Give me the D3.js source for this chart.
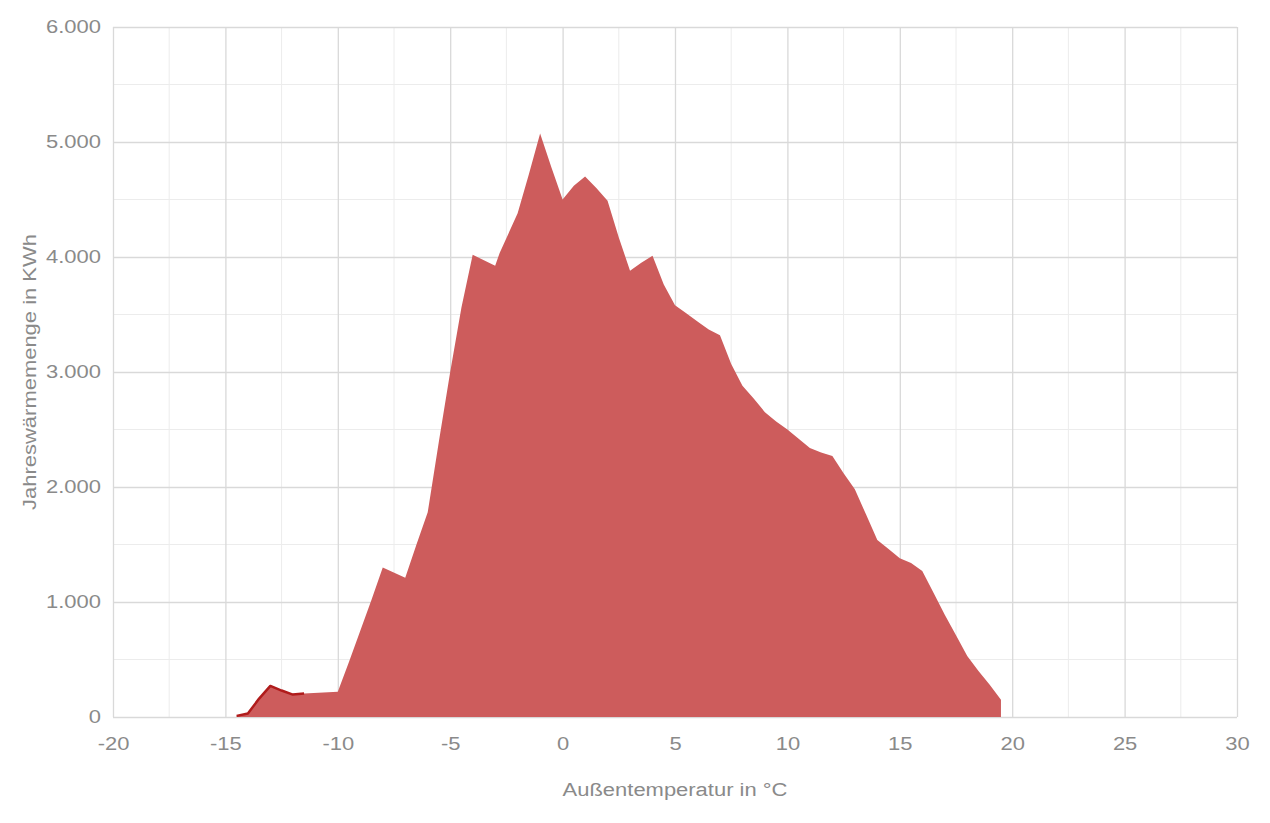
<!DOCTYPE html>
<html><head><meta charset="utf-8">
<script src="https://cdn.jsdelivr.net/npm/d3@7"></script>
<style>body{margin:0;background:#fff;} svg{display:block;font-family:"Liberation Sans",Arial,sans-serif;}</style>
</head><body>
<svg id="c" width="1270" height="823"></svg>
<script>
const temps = [-14.5,-14,-13.5,-13,-12.5,-12,-11.5,-10,-9.5,-9,-8.5,-8,-7,-6.5,-6,-5.5,-5,-4.5,-4,-3,-2.8,-2,-1.5,-1,-0.5,0,0.5,1,1.5,2,2.5,3,3.5,4,4.5,5,5.5,6,6.5,7,7.5,8,8.5,9,9.5,10,10.5,11,11.5,12,12.5,13,13.5,14,14.5,15,15.5,16,16.5,17,17.5,18,18.5,19,19.5];
const energy = [10,30,160,270,230,195,205,220,480,750,1020,1300,1210,1500,1780,2400,3000,3560,4020,3925,4035,4380,4720,5075,4780,4500,4620,4700,4600,4490,4170,3880,3950,4010,3760,3580,3510,3440,3370,3320,3070,2880,2770,2650,2570,2500,2420,2340,2300,2270,2120,1980,1760,1540,1460,1380,1340,1270,1080,890,710,530,400,280,150];
const lineTemps = [-14.5,-14,-13.5,-13,-12.5,-12,-11.5];
const xTicks = [-20,-15,-10,-5,0,5,10,15,20,25,30];
const yTicks = [0,1000,2000,3000,4000,5000,6000];

const svg = d3.select("#c");
const m = {l:113, r:1237, t:27, b:717};
const x = d3.scaleLinear().domain([-20,30]).range([m.l,m.r]);
const y = d3.scaleLinear().domain([0,6000]).range([m.b,m.t]);
const fmt = v => d3.format(",")(v).replace(/,/g,".");
const FS = 18, STRETCH = 1.22, TXT = "#8a8a8a";

const g = svg.append("g");
d3.range(-17.5,30,5).forEach(v=>g.append("line").attr("x1",x(v)).attr("x2",x(v)).attr("y1",m.t).attr("y2",m.b).attr("stroke","#ececec").attr("stroke-width",1));
d3.range(500,6000,1000).forEach(v=>g.append("line").attr("y1",y(v)).attr("y2",y(v)).attr("x1",m.l).attr("x2",m.r).attr("stroke","#ececec").attr("stroke-width",1));
g.append("g").attr("transform",`translate(0,${m.b})`)
  .call(d3.axisBottom(x).tickValues(xTicks).tickSize(-(m.b-m.t)).tickFormat(d=>d).tickPadding(20))
  .call(s=>{s.select(".domain").remove();
    s.selectAll("line").attr("stroke","#d9d9d9").attr("stroke-width",1.3);
    s.selectAll("text").attr("fill",TXT).attr("font-size",FS);});
g.append("g").attr("transform",`translate(${m.l},0)`)
  .call(d3.axisLeft(y).tickValues(yTicks).tickSize(-(m.r-m.l)).tickFormat(fmt).tickPadding(12))
  .call(s=>{s.select(".domain").remove();
    s.selectAll("line").attr("stroke","#d9d9d9").attr("stroke-width",1.3);
    s.selectAll("text").attr("fill",TXT).attr("font-size",FS);});

const data = temps.map((t,i)=>({t, v: energy[i]}));
const area = d3.area().x(d=>x(d.t)).y0(y(0)).y1(d=>y(d.v));
svg.append("path").datum(data).attr("d",area).attr("fill","#cd5c5c");

const lineData = lineTemps.map(t=>({t, v: energy[temps.indexOf(t)]}));
svg.append("path").datum(lineData).attr("d",d3.line().x(d=>x(d.t)).y(d=>y(d.v)))
  .attr("fill","none").attr("stroke","#b01c1c").attr("stroke-width",2.5).attr("stroke-linejoin","round");

svg.append("text").attr("x",(m.l+m.r)/2).attr("y",796).attr("text-anchor","middle")
  .attr("fill",TXT).attr("font-size",FS).text("Außentemperatur in °C");
svg.append("text").attr("transform",`translate(36,${(m.t+m.b)/2}) rotate(-90)`).attr("text-anchor","middle")
  .attr("fill",TXT).attr("font-size",FS).text("Jahreswärmemenge in KWh");

// the reference text is rendered horizontally wider; stretch glyphs
svg.selectAll("text").each(function(){
  const len = this.getComputedTextLength();
  d3.select(this).attr("textLength", len*STRETCH).attr("lengthAdjust","spacingAndGlyphs");
});
</script>
</body></html>
